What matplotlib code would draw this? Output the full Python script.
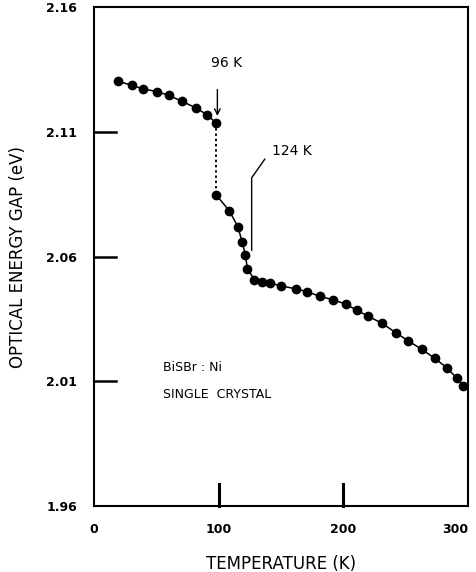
import numpy as np
import matplotlib
matplotlib.use('Agg')
import matplotlib.pyplot as plt

# below the transition (ends at 96 K jump)
temp_low = [19.5, 30.3, 39.7, 50.4, 59.8, 70.6, 81.8, 90.7, 98.0]
gap_low = [2.1302, 2.1286, 2.1271, 2.1261, 2.1246, 2.1222, 2.1195, 2.1168, 2.1135]

# above the jump
temp_high = [98.0, 108.6, 115.4, 118.8, 121.5, 123.1, 128.7, 134.9, 141.0, 150.4,
             161.7, 171.1, 181.0, 191.5, 202.3, 210.8, 220.0, 230.9, 242.2, 251.8,
             262.8, 273.5, 283.2, 291.2, 296.1]
gap_high = [2.0847, 2.0783, 2.0720, 2.0660, 2.0606, 2.0550, 2.0508, 2.0499, 2.0494, 2.0482,
            2.0471, 2.0459, 2.0441, 2.0427, 2.0409, 2.0385, 2.0361, 2.0333, 2.0295, 2.0263,
            2.0229, 2.0192, 2.0154, 2.0112, 2.0080]

yticks = [1.96, 2.01, 2.06, 2.11, 2.16]
ytick_labels = ['1.96', '2.01', '2.06', '2.11', '2.16']
xticks = [0, 100, 200, 300]
xtick_labels = ['0', '100', '200', '300']

fig = plt.figure(figsize=(4.77, 5.72), dpi=100)
ax = fig.add_axes([0.197, 0.115, 0.784, 0.873])

ax.plot(temp_low, gap_low, 'k-', lw=1.1, marker='o', ms=6, mfc='black')
ax.plot(temp_high, gap_high, 'k-', lw=1.1, marker='o', ms=6, mfc='black')
ax.plot([temp_low[-1], temp_high[0]], [gap_low[-1], gap_high[0]], 'k', ls=(0, (1.2, 1.5)), lw=1.4)

ax.set_xlim(0, 300)
ax.set_ylim(1.96, 2.16)

for s in ax.spines.values():
    s.set_linewidth(1.5)

ax.set_yticks(yticks)
ax.set_yticklabels(ytick_labels)
ax.set_xticks(xticks)
ax.set_xticklabels(xtick_labels)
ax.tick_params(axis='both', direction='in', length=0, labelsize=9, pad=12)
for lab in ax.get_yticklabels() + ax.get_xticklabels():
    lab.set_fontweight('bold')
ax.get_xticklabels()[-1].set_horizontalalignment('right')

# inner tick marks as in the original drawing
for y in [2.01, 2.06, 2.11]:
    ax.plot([0, 18], [y, y], 'k-', lw=1.8, clip_on=False)
for x in [100, 200]:
    ax.plot([x, x], [1.96, 1.969], 'k-', lw=2.2, clip_on=False)

ax.set_xlabel('TEMPERATURE (K)', fontsize=12, labelpad=14)
ax.set_ylabel('OPTICAL ENERGY GAP (eV)', fontsize=12, labelpad=14)

ax.text(106, 2.1375, '96 K', fontsize=10, ha='center', va='center')
ax.annotate('', xy=(99, 2.1152), xytext=(99, 2.128),
            arrowprops=dict(arrowstyle='->', color='black', lw=1.0))

ax.text(159, 2.1023, '124 K', fontsize=10, ha='center', va='center')
ax.plot([137, 126.5, 126.5], [2.0990, 2.0915, 2.0625], 'k-', lw=1.0)

ax.text(55, 2.0155, 'BiSBr : Ni', fontsize=9, ha='left', va='center')
ax.text(55, 2.0047, 'SINGLE  CRYSTAL', fontsize=9, ha='left', va='center')

fig.savefig('out.png', dpi=100)
